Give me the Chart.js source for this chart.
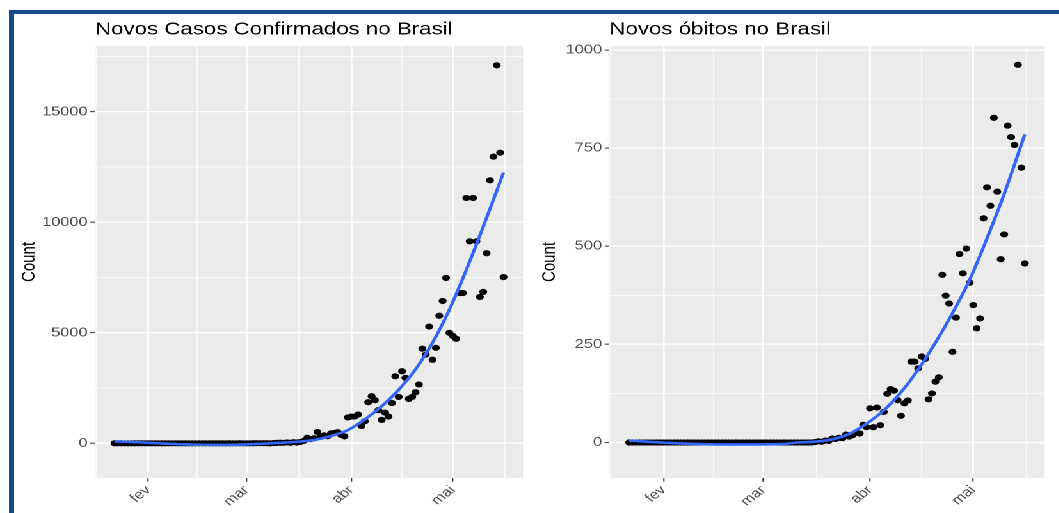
<!DOCTYPE html>
<html lang="pt-BR">
<head>
<meta charset="utf-8">
<title>Covid-19 no Brasil</title>
<script src="https://cdn.jsdelivr.net/npm/chart.js@4/dist/chart.umd.min.js"></script>
<style>
  html, body { margin: 0; padding: 0; background: #ffffff; width: 1059px; height: 513px; overflow: hidden; }
  .frame { position: absolute; background: #17498a; }
  #frameTop  { left: 9px; top: 10px; width: 1050px; height: 4px; }
  #frameLeft { left: 9px; top: 10px; width: 5px; height: 503px; }
  /* the figure is drawn narrow and widened horizontally */
  #stage { position: absolute; left: 0; top: 0; width: 827.34px; height: 513px;
           transform: scaleX(1.28); transform-origin: 0 0; }
  .box { position: absolute; top: 0; height: 513px; }
  #boxCasos  { left: 0; width: 414px; }
  #boxObitos { left: 414px; width: 413.34px; }
</style>
</head>
<body>
<div class="frame" id="frameTop"></div>
<div class="frame" id="frameLeft"></div>
<div id="stage">
  <div class="box" id="boxCasos"><canvas id="casos"></canvas></div>
  <div class="box" id="boxObitos"><canvas id="obitos"></canvas></div>
</div>
<script>
// Dia do ano (0 = 1 jan 2020) do primeiro registro: 22 jan
const FIRST_DAY = 21;

// Eixo x: início de cada mês e os pontos entre eles
const monthDays    = [31, 60, 91, 121];
const monthLabels  = ['fev', 'mar', 'abr', 'mai'];
const midMonthDays = [15.5, 45.5, 75.5, 106, 136.5];

// Novos casos confirmados por dia, 22 jan – 16 mai
const casosNovos = [
  0, 0, 0, 0, 0, 0, 0, 0, 0, 0,
  0, 0, 0, 0, 0, 0, 0, 0, 0, 0,
  0, 0, 0, 0, 0, 0, 0, 0, 0, 0,
  0, 0, 0, 0, 1, 0, 0, 1, 0, 0,
  0, 1, 4, 6, 6, 6, 0, 9, 18, 25,
  21, 40, 25, 50, 35, 60, 110, 250, 190, 230,
  510, 300, 360, 320, 450, 470, 500, 380, 315, 1170,
  1210, 1210, 1300, 780, 1000, 1860, 2130, 1950, 1500, 1060,
  1390, 1210, 1820, 3030, 2100, 3260, 2960, 2010, 2100, 2310,
  2660, 4280, 4010, 5280, 3780, 4320, 5770, 6440, 7480, 5000,
  4860, 4730, 6800, 6800, 11100, 9140, 11100, 9140, 6620, 6850,
  8600, 11900, 12970, 17100, 13150, 7520
];

// Novos óbitos por dia, 22 jan – 16 mai
const obitosNovos = [
  0, 0, 0, 0, 0, 0, 0, 0, 0, 0,
  0, 0, 0, 0, 0, 0, 0, 0, 0, 0,
  0, 0, 0, 0, 0, 0, 0, 0, 0, 0,
  0, 0, 0, 0, 0, 0, 0, 0, 0, 0,
  0, 0, 0, 0, 0, 0, 0, 0, 0, 0,
  0, 0, 0, 0, 1, 3, 2, 5, 4, 10,
  9, 12, 11, 20, 15, 19, 25, 23, 45, 39,
  87, 39, 89, 44, 78, 124, 136, 132, 108, 68,
  100, 107, 206, 206, 189, 219, 213, 110, 125, 155,
  166, 427, 374, 354, 231, 318, 480, 431, 494, 407,
  350, 291, 316, 571, 650, 603, 827, 639, 467, 530,
  807, 778, 758, 962, 700, 456
];

// Curvas de tendência suavizadas (dia do ano, valor)
const casosTendDias = [21, 30, 40, 50, 60, 70, 75, 80, 85, 90, 95, 100, 105, 110, 115, 120, 125, 130, 136];
const casosTend     = [90, 30, -40, -70, -50, 20, 70, 150, 330, 600, 1080, 1680, 2420, 3350, 4550, 6050, 7850, 9800, 12250];
const obitosTendDias = [21, 35, 50, 65, 70, 75, 80, 85, 90, 95, 100, 105, 110, 115, 120, 125, 130, 136];
const obitosTend     = [5, -2, -5, -4, 0, 2, 8, 22, 48, 82, 128, 186, 254, 330, 415, 520, 633, 785];

// Marcas do eixo y
const casosTicks   = [0, 5000, 10000, 15000];
const casosMinor   = [2500, 7500, 12500, 17500];
const obitosTicks  = [0, 250, 500, 750, 1000];
const obitosMinor  = [125, 375, 625, 875];

const FONT = '"Liberation Sans", Arial, Helvetica, sans-serif';

// fundo cinza do painel
const panelBg = {
  id: 'panelBg',
  beforeDraw(chart) {
    const { ctx, chartArea: a } = chart;
    ctx.save();
    ctx.fillStyle = '#EBEBEB';
    ctx.fillRect(a.left, a.top, a.right - a.left, a.bottom - a.top);
    ctx.restore();
  }
};

function panel(canvasId, o) {
  const pontos = o.values.map((v, i) => ({ x: FIRST_DAY + i, y: v }));
  const tend = o.trendDays.map((d, i) => ({ x: d, y: o.trend[i] }));
  const yAll = o.yMajor.concat(o.yMinor).sort((a, b) => a - b);
  const xAll = monthDays.concat(midMonthDays).sort((a, b) => a - b);
  const isMajorX = v => monthDays.includes(v);
  const isMajorY = v => o.yMajor.includes(v);

  new Chart(document.getElementById(canvasId), {
    type: 'scatter',
    plugins: [panelBg],
    data: {
      datasets: [
        { type: 'line', data: tend, borderColor: '#3366FF', borderWidth: 2.6,
          pointRadius: 0, cubicInterpolationMode: 'monotone', fill: false, order: 0 },
        { type: 'scatter', data: pontos, backgroundColor: '#000000', borderWidth: 0,
          pointRadius: 3.1, order: 1 }
      ]
    },
    options: {
      responsive: true,
      maintainAspectRatio: false,
      animation: false,
      devicePixelRatio: 2,
      events: [],
      layout: { padding: { left: 0, right: o.padRight, top: 0, bottom: 0 } },
      plugins: {
        legend: { display: false },
        tooltip: { enabled: false },
        title: {
          display: true, text: o.title, align: 'start', fullSize: false,
          color: '#000000', font: { family: FONT, size: 17.4, weight: 'normal' },
          padding: { top: 19.4, bottom: 5.7 }
        }
      },
      scales: {
        x: {
          type: 'linear', min: 15.25, max: 141.75,
          afterBuildTicks: s => { s.ticks = xAll.map(v => ({ value: v })); },
          afterFit: s => { s.height = 35; },
          border: { display: false },
          grid: {
            color: '#FFFFFF',
            lineWidth: c => isMajorX(c.tick.value) ? 1.3 : 0.65,
            tickColor: c => isMajorX(c.tick.value) ? '#333333' : 'rgba(0,0,0,0)',
            tickLength: 3.7, tickWidth: 1
          },
          ticks: {
            autoSkip: false, minRotation: 45, maxRotation: 45, padding: 1,
            color: '#4D4D4D', font: { family: FONT, size: 12.8 },
            callback: v => { const k = monthDays.indexOf(v); return k >= 0 ? monthLabels[k] : ''; }
          }
        },
        y: {
          type: 'linear', min: o.yMin, max: o.yMax,
          afterBuildTicks: s => { s.ticks = yAll.map(v => ({ value: v })); },
          afterFit: s => { s.width = o.yWidth; },
          border: { display: false },
          grid: {
            color: '#FFFFFF',
            lineWidth: c => isMajorY(c.tick.value) ? 1.3 : 0.65,
            tickColor: c => isMajorY(c.tick.value) ? '#333333' : 'rgba(0,0,0,0)',
            tickLength: 3.7, tickWidth: 1
          },
          ticks: {
            autoSkip: false, padding: 2,
            color: '#4D4D4D', font: { family: FONT, size: 12.8 },
            callback: v => isMajorY(v) ? String(v) : ''
          },
          title: {
            display: true, text: 'Count', color: '#000000',
            font: { family: FONT, size: 15 },
            padding: { top: o.titlePad, bottom: 0 }
          }
        }
      }
    }
  });
}

panel('casos', {
  title: 'Novos Casos Confirmados no Brasil',
  values: casosNovos, trendDays: casosTendDias, trend: casosTend,
  yMajor: casosTicks, yMinor: casosMinor, yMin: -1570, yMax: 17977,
  yWidth: 74.22, padRight: 5.41, titlePad: 13.7
});

panel('obitos', {
  title: 'Novos óbitos no Brasil',
  values: obitosNovos, trendDays: obitosTendDias, trend: obitosTend,
  yMajor: obitosTicks, yMinor: obitosMinor, yMin: -90.4, yMax: 1010,
  yWidth: 62.1, padRight: 11.2, titlePad: 6.6
});
</script>
</body>
</html>
